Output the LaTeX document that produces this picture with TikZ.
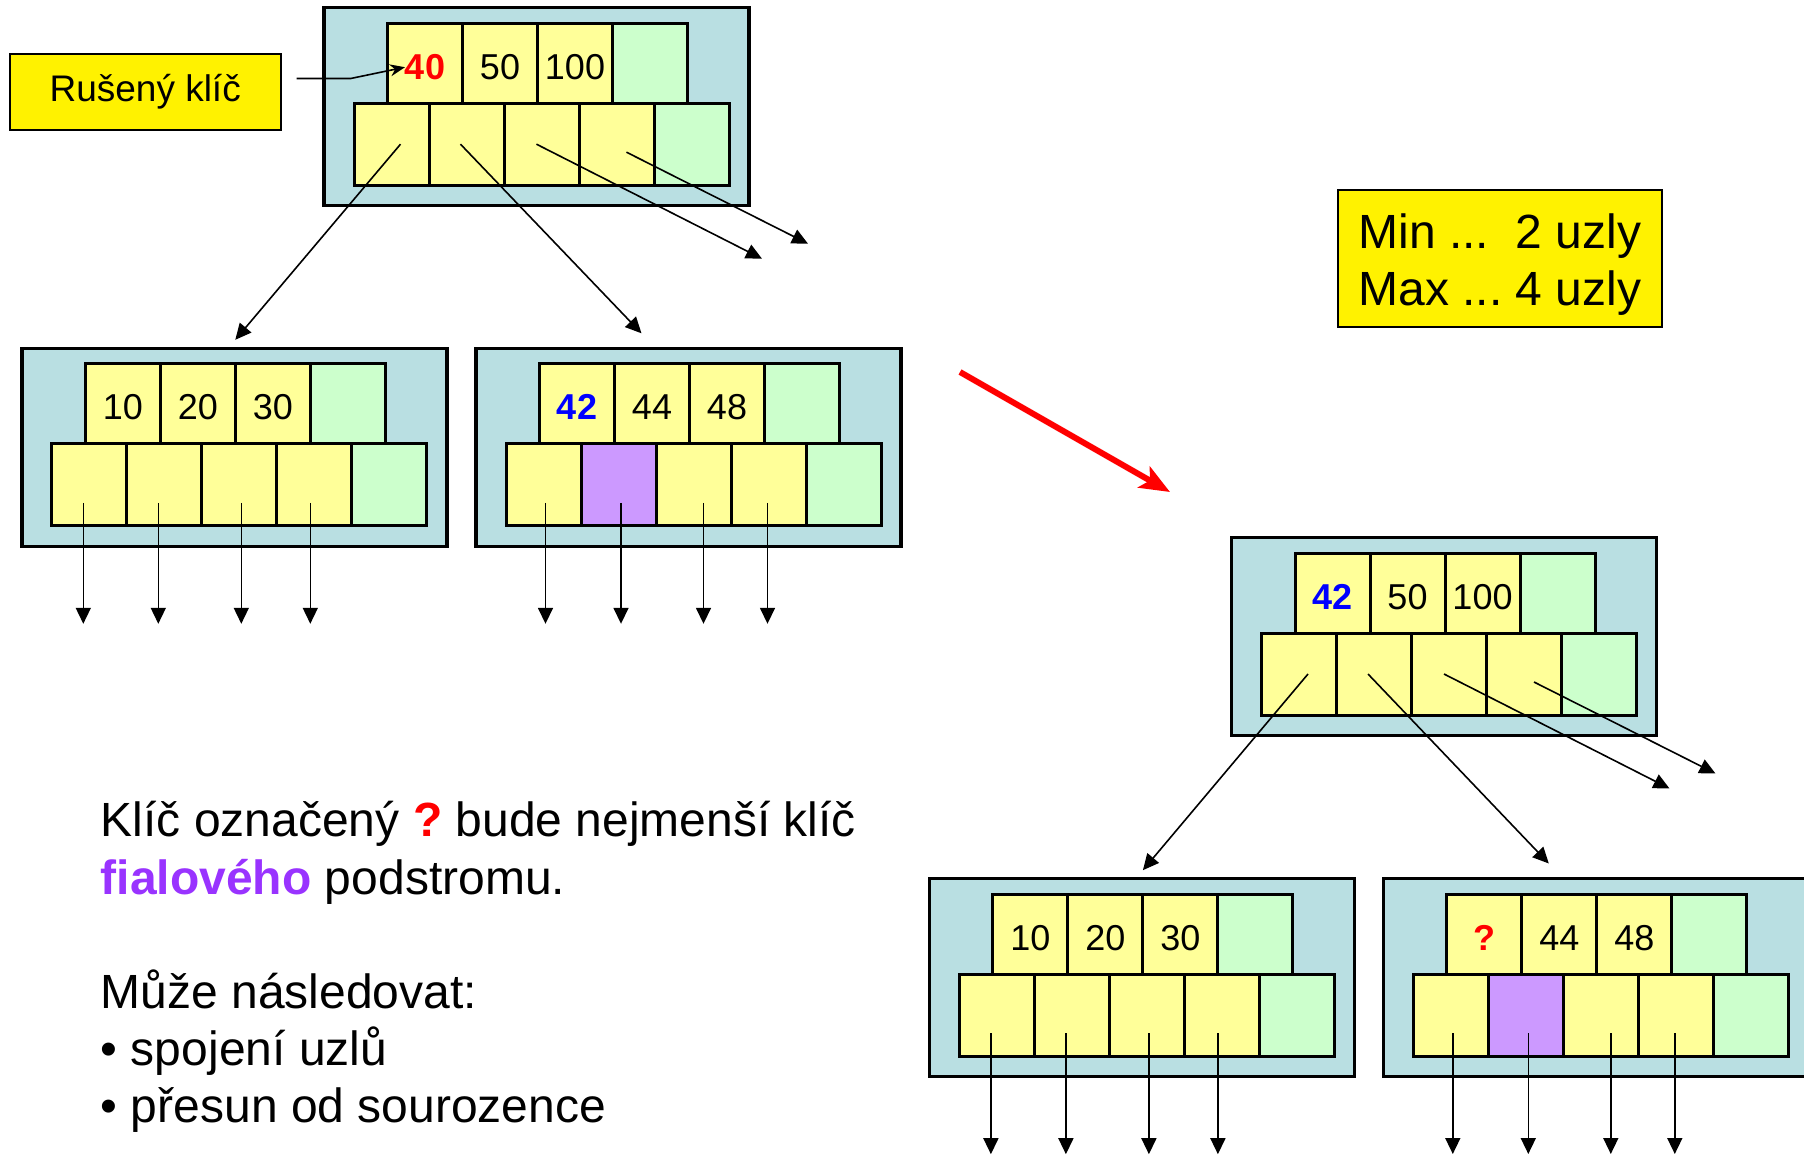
\documentclass[tikz,border=0pt]{standalone}
\usepackage{fontspec}
\setmainfont{Liberation Sans}
\frenchspacing
\definecolor{nodeblue}{RGB}{185,223,226}
\definecolor{keyyellow}{RGB}{255,255,153}
\definecolor{keygreen}{RGB}{204,255,204}
\definecolor{subviolet}{RGB}{204,153,255}
\definecolor{textviolet}{RGB}{153,51,255}
\usetikzlibrary{calc,positioning,arrows.meta}
\tikzset{
	outerbox/.style={
		rectangle,
		fill=nodeblue,
		draw=black, line width=3.5pt,
		minimum width=425pt,
		minimum height=198pt,
		anchor=north west,
		outer sep=0pt},
	keycell/.style={
		rectangle,
		fill=keyyellow,
		draw=black, line width=3pt,
		minimum width=75pt,
		minimum height=80pt,
		inner sep=0pt, outer sep=0pt,
		anchor=north west,
		font=\fontsize{36}{40}\selectfont,
		text height=32pt, text depth=0pt},
	ptrcell/.style={keycell, minimum height=82pt},
	emptycell/.style={fill=keygreen},
	subcell/.style={fill=subviolet},
	ptrline/.style={draw, line width=1.6pt, -{Triangle[length=16pt,width=15pt]}},
	notebox/.style={
		rectangle,
		fill=yellow,
		draw=black, line width=2pt,
		inner sep=0pt, outer sep=0pt},
	delline/.style={draw, line width=1.6pt, -{Stealth[length=15pt,width=12pt]}},
	bigarrow/.style={draw=red, line width=6pt, -{Stealth[length=30pt,width=24pt,inset=7pt]}},
}
% one B-tree node: name, top left corner, three keys, style of 2nd pointer
\newcommand*\bnode[6]{%
	\node[outerbox] (#1) at (#2) {};
	\node[keycell] (#1-k1) at ($(#1.north west)+(63.5,15.5)$) {#3};
	\node[keycell, right=0pt of #1-k1] (#1-k2) {#4};
	\node[keycell, right=0pt of #1-k2] (#1-k3) {#5};
	\node[keycell, emptycell, right=0pt of #1-k3] (#1-k4) {};
	\node[ptrcell] (#1-p1) at ($(#1.north west)+(30,95.5)$) {};
	\node[ptrcell, #6, right=0pt of #1-p1] (#1-p2) {};
	\node[ptrcell, right=0pt of #1-p2] (#1-p3) {};
	\node[ptrcell, right=0pt of #1-p3] (#1-p4) {};
	\node[ptrcell, emptycell, right=0pt of #1-p4] (#1-p5) {};
}

\begin{document}
\begin{tikzpicture}[x=1pt,y=-1pt]
\useasboundingbox (0,0) rectangle (1804,1154);

% before
\bnode{pre}{324,7.7}{\textbf{\textcolor{red}{40}}}{50}{100}{}
\bnode{prel}{21.8,348.3}{10}{20}{30}{}
\bnode{prer}{476,348.3}{\textbf{\textcolor{blue}{42}}}{44}{48}{subcell}
% after
\bnode{post}{1231.5,537.5}{\textbf{\textcolor{blue}{42}}}{50}{100}{}
\bnode{postl}{929.4,878.7}{10}{20}{30}{}
\bnode{postr}{1383.3,878.5}{\textbf{\textcolor{red}{?}}}{44}{48}{subcell}

\foreach \rt/\lc/\rc in {pre/prel/prer, post/postl/postr}{
	\coordinate (\rt-e3) at ($(\rt.north west)+(438,251)$);
	\coordinate (\rt-e4) at ($(\rt.north west)+(484,236)$);
	\draw[ptrline] ($(\rt-p1.center)+(9,0)$) -- ($(\lc.north)+(1,-8.5)$);
	\draw[ptrline] ($(\rt-p2.center)+(-6,0)$) -- ($(\rc.north)+(-47,-15)$);
	\draw[ptrline] ($(\rt-p3.center)+(-5,0)$) -- (\rt-e3);
	\draw[ptrline] ($(\rt-p4.center)+(10,8)$) -- (\rt-e4);
}
% pointers of the leaves
\foreach \n in {prel,postl}
	\foreach \i/\dx in {1/-6,2/-6,3/2,4/-4}
		\draw[ptrline] ($(\n-p\i.center)+(\dx,18)$) -- ($(\n-p\i.center)+(\dx,139)$);
\foreach \n in {prer,postr}
	\foreach \i/\dx in {1/2,2/2.5,3/10,4/-1}
		\draw[ptrline] ($(\n-p\i.center)+(\dx,18)$) -- ($(\n-p\i.center)+(\dx,139)$);

\node[notebox, minimum width=271pt, minimum height=76pt,
	font=\fontsize{37}{42}\selectfont] (del) at (145.2,92.2) {Rušený klíč};
\draw[delline] ($(del.east)+(16,-13.7)$) -- ++(54,0) -- ($(pre-k1.west)+(17.5,4)$);

\node[notebox, align=left, minimum width=324pt, minimum height=137pt,
	font=\fontsize{48}{56.7}\selectfont] (limits) at (1499.75,258.65)
	{\rule{0pt}{46pt}Min ...\ \ 2 uzly\\Max ... 4 uzly};

\coordinate (step-a) at (960,372);
\coordinate (step-b) at (1170,492);
\draw[bigarrow] (step-a) -- (step-b);

\node[align=left, anchor=north west, inner sep=0pt,
	font=\fontsize{48}{57.2}\selectfont] (hint) at (100.7,792.7)
	{\rule{0pt}{44pt}Klíč označený \textbf{\textcolor{red}{?}} bude nejmenší klíč\\
	\textbf{\textcolor{textviolet}{fialového}} podstromu.\\[57.2pt]
	Může následovat:\\
	• spojení uzlů\\
	• přesun od sourozence};
\end{tikzpicture}
\end{document}
